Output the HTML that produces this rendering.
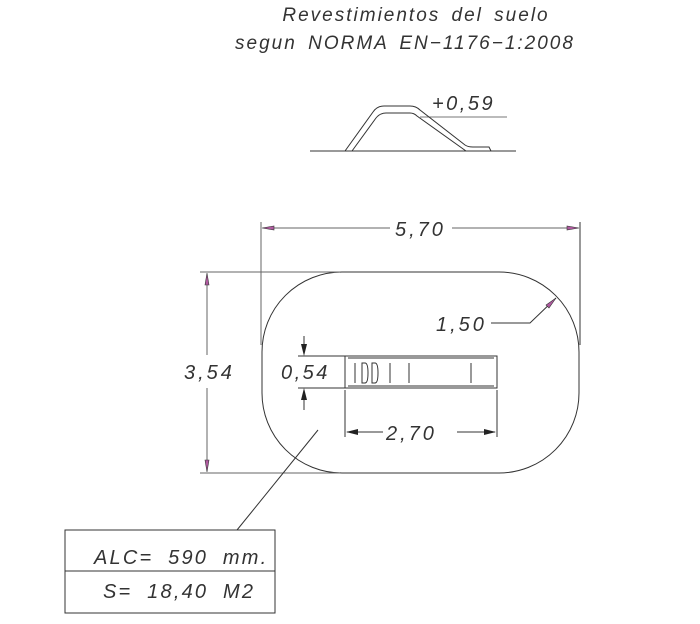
<!DOCTYPE html>
<html><head><meta charset="utf-8"><style>
html,body{margin:0;padding:0;background:#fff;}
svg text{font-family:"Liberation Sans",sans-serif;font-style:italic;fill:#333;}
</style></head><body>
<svg width="700" height="619" viewBox="0 0 700 619" xmlns="http://www.w3.org/2000/svg">
<text x="416" y="21" font-size="19" text-anchor="middle" letter-spacing="2" word-spacing="4">Revestimientos del suelo</text>
<text x="405" y="49" font-size="19" text-anchor="middle" letter-spacing="2" word-spacing="4">segun NORMA EN−1176−1:2008</text>
<g stroke="#333" fill="none" stroke-width="1">
<line x1="310" y1="151" x2="516" y2="151"/>
<line x1="420" y1="117" x2="507" y2="117" stroke="#777"/>
<path d="M345 151 L373 112 Q377 106 384 106 L410 106 Q416 106 420 110 L465 145 Q468 147 473 147 L489 147 L491 151"/>
<path d="M352 151 L376 118 Q380 113 386 113 L410 113 Q414 113 417 116 L466 151"/>
<line x1="261" y1="222" x2="261" y2="345" stroke="#666"/>
<line x1="580" y1="222" x2="580" y2="345" stroke="#333"/>
<line x1="263" y1="228" x2="390" y2="228" stroke="#666"/>
<line x1="452" y1="228" x2="578" y2="228" stroke="#666"/>
<rect x="262" y="272" width="317" height="201" rx="80" ry="80"/>
<line x1="200" y1="272" x2="340" y2="272" stroke="#666"/>
<line x1="200" y1="473" x2="340" y2="473" stroke="#666"/>
<line x1="207" y1="274" x2="207" y2="355" stroke="#666"/>
<line x1="207" y1="388" x2="207" y2="471" stroke="#666"/>
<polyline points="556,298 530,323 491,323"/>
<rect x="345" y="356" width="152" height="32"/>
<line x1="348" y1="358" x2="494" y2="358"/>
<line x1="348" y1="386" x2="494" y2="386"/>
<line x1="355" y1="363" x2="355" y2="383"/>
<path d="M362 363 h3 q3 0 3 10 q0 10 -3 10 h-3 z"/>
<path d="M372 363 h3 q3 0 3 10 q0 10 -3 10 h-3 z"/>
<line x1="390" y1="363" x2="390" y2="383"/>
<line x1="409" y1="363" x2="409" y2="383"/>
<line x1="471" y1="363" x2="471" y2="383"/>
<line x1="298" y1="356" x2="345" y2="356"/>
<line x1="298" y1="388" x2="345" y2="388"/>
<line x1="304" y1="336" x2="304" y2="354"/>
<line x1="304" y1="390" x2="304" y2="410"/>
<line x1="345" y1="390" x2="345" y2="437"/>
<line x1="497" y1="390" x2="497" y2="437"/>
<line x1="347" y1="432" x2="383" y2="432"/>
<line x1="457" y1="432" x2="495" y2="432"/>
<line x1="318" y1="430" x2="237" y2="530"/>
<rect x="65" y="530" width="210" height="83"/>
<line x1="65" y1="571" x2="275" y2="571"/>
</g>
<g fill="#b05aa0" stroke="#333" stroke-width="0.6">
<polygon points="262,228 274,226 274,230"/>
<polygon points="579,228 567,226 567,230"/>
<polygon points="207,273 205,285 209,285"/>
<polygon points="207,472 205,460 209,460"/>
<polygon points="556,298 546,305 549,308"/>
</g>
<g fill="#222">
<polygon points="304,356 301,344 307,344"/>
<polygon points="304,388 301,400 307,400"/>
<polygon points="346,432 358,429 358,435"/>
<polygon points="496,432 484,429 484,435"/>
</g>
<text x="432" y="110" font-size="20" font-style="normal" letter-spacing="2.5">+0,59</text>
<text x="395" y="236" font-size="20" letter-spacing="3">5,70</text>
<text x="436" y="331" font-size="20" letter-spacing="3">1,50</text>
<text x="184" y="379" font-size="20" letter-spacing="3">3,54</text>
<text x="281" y="379" font-size="20" font-style="normal" letter-spacing="2.5">0,54</text>
<text x="386" y="440" font-size="20" font-style="normal" letter-spacing="3">2,70</text>
<text x="94" y="564" font-size="20" letter-spacing="2.2" word-spacing="7">ALC= 590 mm.</text>
<text x="103" y="598" font-size="20" letter-spacing="2.2" word-spacing="7">S= 18,40 M2</text>
</svg>
</body></html>
